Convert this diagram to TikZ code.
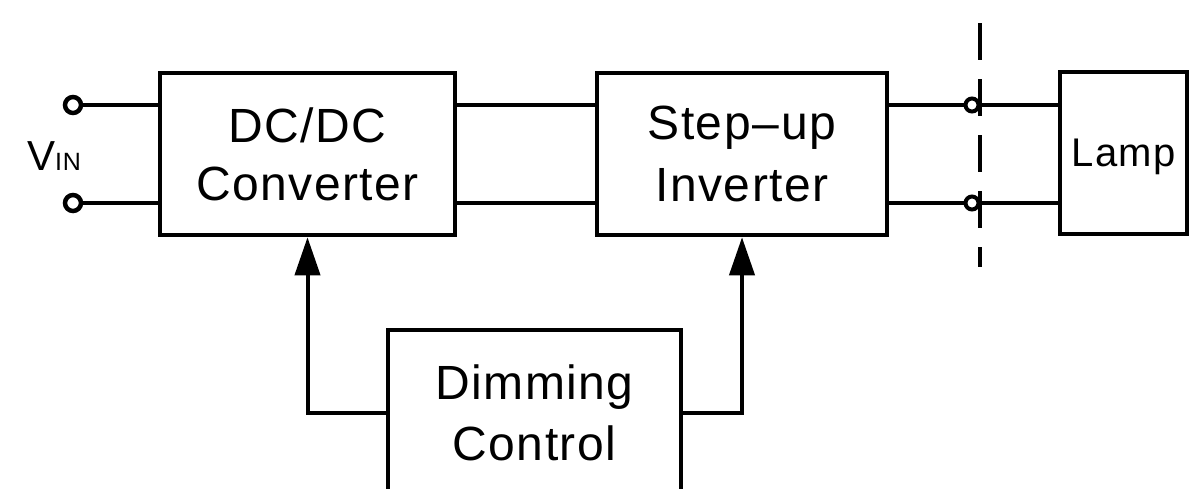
\documentclass[tikz,border=0pt]{standalone}
\usepackage{fontspec}
\setmainfont[LetterSpace=3]{Liberation Sans}
\usetikzlibrary{arrows.meta}
\begin{document}
\begin{tikzpicture}[x=1pt,y=-1pt,
  box/.style={draw, line width=4.5pt, inner sep=0pt, align=center, font=\fontsize{48}{58}\selectfont},
  wire/.style={line width=4.5pt},
  term/.style={circle, draw, line width=4.5pt, minimum size=16pt, inner sep=0pt},
  rterm/.style={circle, draw, line width=4pt, minimum size=13pt, inner sep=0pt},
  arr/.style={line width=4pt, -{Triangle[length=38pt,width=25pt]}},
  cut/.style={line width=4.5pt, dash pattern=on 37pt off 19pt}]
\clip (0,0) rectangle (1200,488);
\useasboundingbox (0,0) rectangle (1200,488);
\fill[white] (0,0) rectangle (1200,488);

\node[box, minimum width=295pt, minimum height=162pt] (dc) at (307.5,154) {DC/DC\\Converter};
\node[box, minimum width=290pt, minimum height=162pt, font=\fontsize{48}{62}\selectfont] (su) at (742,154) {Step\kern2pt\textendash\kern2pt up\\Inverter};
\node[box, minimum width=127pt, minimum height=162pt, font=\fontsize{40}{40}\selectfont, text depth=0pt] (lamp) at (1123.5,153) {Lamp};
\node[box, minimum width=293pt, minimum height=165pt, font=\fontsize{48}{61}\selectfont] (dim) at (534.5,412.5) {Dimming\\Control};

\node[anchor=base west, inner sep=0pt] (vin) at (27,170) {\fontsize{42}{42}\selectfont V\fontsize{25}{25}\selectfont IN};

\node[term] (t1) at (73,105) {};
\node[term] (t2) at (73,203) {};
\node[rterm] (t3) at (972,105) {};
\node[rterm] (t4) at (972,203) {};

\draw[wire] (t1.east) -- (t1.east -| dc.west);
\draw[wire] (t2.east) -- (t2.east -| dc.west);
\draw[wire] (dc.east |- t1) -- (su.west |- t1);
\draw[wire] (dc.east |- t2) -- (su.west |- t2);
\draw[wire] (su.east |- t3) -- (t3.west);
\draw[wire] (su.east |- t4) -- (t4.west);
\draw[wire] (t3.east) -- (lamp.west |- t3);
\draw[wire] (t4.east) -- (lamp.west |- t4);

\coordinate (ctop) at (980,23);
\coordinate (cbot) at (980,267);
\draw[cut] (ctop) -- (cbot);

\draw[arr] (dim.west) -| (dc.south);
\draw[arr] (dim.east) -| (su.south);
\end{tikzpicture}
\end{document}
